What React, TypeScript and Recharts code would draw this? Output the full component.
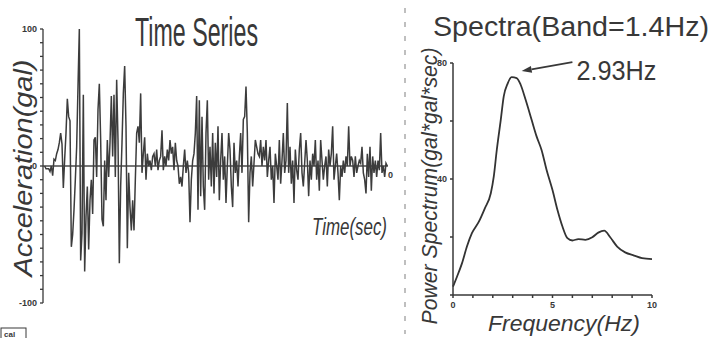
import { Line, LineChart, ReferenceLine, XAxis, YAxis } from "recharts"

// acceleration samples (gal), one every 0.2 s
const accel = [
  0, -2, -2, -2, -4, 0, -7, 5, 4, 9, 12, 17, 24, 16, -16, 5, 24, 49, 36, 33,
  -59, -50, -32, -10, 14, 58, 100, -69, -49, 52, -77, -37, -15, -61, -25, -10, -35, 19, 21, -8,
  41, 60, 19, -39, -44, 4, -25, 19, -8, 17, 51, 7, 52, -8, 63, 19, -71, -15, 17, 53,
  73, 29, -60, -5, -30, -47, -25, -47, -10, 24, 29, 17, 53, -5, 9, 21, -10, 9, 0, 4,
  -3, 7, 9, 0, 12, -3, 4, 7, 26, -3, 7, 0, 12, 4, 19, 9, 14, -3, 17, 4,
  0, -13, -8, -15, 0, 12, -5, 4, -5, -41, -10, 4, 9, 24, 51, -32, 48, -22, 36, -15,
  -32, 24, 48, -10, 14, -15, 24, -20, 17, -8, 29, -25, 4, 24, -10, 7, -27, 0, 24, 12,
  -15, -30, 17, -5, 4, -15, 7, 24, -5, 34, 36, 58, 24, -41, -5, 7, -15, 2, 19, 14,
  9, 7, 19, 0, 14, 4, 19, -8, 4, 14, -10, 0, -27, 9, 0, -10, 19, -13, 4, 24,
  -5, 4, 46, -5, 14, -13, 4, -27, 12, -3, -10, 12, 24, -5, -15, 2, 19, 4, -22, 4,
  -10, 9, 0, 19, -10, 4, -18, 19, 4, -10, 0, 7, -15, 12, 0, 9, 29, -10, 0, 9,
  -5, -25, 0, -8, 4, -5, 7, 0, 29, 0, 7, 4, -8, 7, -5, 0, 4, 2, 14, -5,
  -10, -20, 9, -8, 14, -18, 7, -5, 4, -8, 4, -3, 24, -5, 0, -8, 2, 0,
]
const timeStep = 0.2

const accelTicks = [-100, -90, -80, -70, -60, -50, -40, -30, -20, -10, 0, 10, 20, 30, 40, 50, 60, 70, 80, 90, 100]
const accelLabels = [-100, 0, 100]

// power spectrum
const freq = [0, 0.2, 0.45, 0.7, 0.95, 1.3, 1.6, 1.9, 2.05, 2.2, 2.4, 2.55, 2.75, 2.95, 3.2, 3.4, 3.65, 3.95, 4.2, 4.45, 4.7, 5.0, 5.25, 5.5, 5.75, 6.0, 6.3, 6.65, 7.0, 7.3, 7.6, 7.9, 8.25, 8.65, 9.1, 9.5, 10]
const power = [2.9, 6.3, 10.9, 16.7, 21.3, 25.3, 29.9, 35.1, 40.9, 50, 60.4, 68.5, 73, 75.1, 74.8, 72.5, 67.3, 60.4, 54.7, 50, 43.2, 36.2, 29.3, 23.6, 19.6, 18.8, 19.3, 19, 19.9, 21.5, 22.2, 19.9, 16.7, 14.7, 13.6, 12.7, 12.4]

const powerTicks = [0, 20, 40, 60, 80]
const powerLabels = [40, 80]
const freqTicks = [0, 1, 2, 3, 4, 5, 6, 7, 8, 9, 10]
const freqLabels = [0, 5, 10]
const peakLabel = "2.93Hz"

const seriesData = accel.map((a, i) => ({ t: i * timeStep, a }))
const spectrumData = freq.map((f, i) => ({ f, p: power[i] }))

const ink = "#383838"
const font = "'Liberation Sans', Arial, sans-serif"

const LeftTick = (props: any) => {
  const { x, y, payload } = props
  if (!accelLabels.includes(payload.value)) return <g />
  return (
    <text x={x - 1} y={y + 3} textAnchor="end" fontSize={9} fontWeight="bold" fill={ink} fontFamily={font}>
      {payload.value}
    </text>
  )
}

const PowerTick = (props: any) => {
  const { x, y, payload } = props
  if (!powerLabels.includes(payload.value)) return <g />
  return (
    <text x={x - 1} y={y + 3} textAnchor="end" fontSize={9} fontWeight="bold" fill={ink} fontFamily={font}>
      {payload.value}
    </text>
  )
}

const FreqTick = (props: any) => {
  const { x, y, payload } = props
  if (!freqLabels.includes(payload.value)) return <g />
  return (
    <text x={x} y={y + 8} textAnchor="middle" fontSize={9} fontWeight="bold" fill={ink} fontFamily={font}>
      {payload.value}
    </text>
  )
}

// arrow pointing at the spectral peak, with its label at the tail
const PeakArrow = (props: any) => {
  const { x1, y1, x2, y2 } = props
  const dx = x2 - x1
  const dy = y2 - y1
  const len = Math.sqrt(dx * dx + dy * dy) || 1
  const ux = dx / len
  const uy = dy / len
  const bx = x2 - ux * 10
  const by = y2 - uy * 10
  const head = `${x2},${y2} ${bx - uy * 3.5},${by + ux * 3.5} ${bx + uy * 3.5},${by - ux * 3.5}`
  return (
    <g>
      <line x1={x1} y1={y1} x2={bx} y2={by} stroke={ink} strokeWidth={1.6} />
      <polygon points={head} fill={ink} />
      <text x={x1 + 4} y={y1 + 18} fontSize={28} fill={ink} fontFamily={font} textLength={80} lengthAdjust="spacingAndGlyphs">
        {peakLabel}
      </text>
    </g>
  )
}

export default function App() {
  return (
    <div style={{ position: "absolute", left: 0, top: 0, width: 716, height: 338, background: "#fff", overflow: "hidden" }}>
      <div style={{ position: "absolute", left: 0, top: 0 }}>
        <LineChart width={400} height={338} data={seriesData} margin={{ top: 29, right: 12, bottom: 35, left: 0 }}>
          <XAxis dataKey="t" type="number" domain={[-0.25, 51.5]} allowDataOverflow hide />
          <YAxis
            width={43}
            type="number"
            domain={[-100, 100]}
            ticks={accelTicks}
            interval={0}
            tick={LeftTick}
            tickSize={3}
            stroke={ink}
            strokeWidth={1.3}
          />
          <ReferenceLine y={0} stroke="#4a4a4a" strokeWidth={1.6} />
          <Line dataKey="a" stroke="#3c3c3c" strokeWidth={1.5} dot={false} isAnimationActive={false} />
        </LineChart>
      </div>
      <div style={{ position: "absolute", left: 400, top: 0 }}>
        <LineChart width={316} height={338} data={spectrumData} margin={{ top: 63, right: 64, bottom: 0, left: 0 }}>
          <XAxis
            dataKey="f"
            type="number"
            domain={[0, 10]}
            ticks={freqTicks}
            interval={0}
            height={43}
            tick={FreqTick}
            tickSize={3}
            stroke={ink}
            strokeWidth={1.5}
          />
          <YAxis
            width={53}
            type="number"
            domain={[0, 80]}
            ticks={powerTicks}
            interval={0}
            tick={PowerTick}
            tickSize={3}
            stroke={ink}
            strokeWidth={1.5}
          />
          <Line type="monotone" dataKey="p" stroke="#333" strokeWidth={1.8} dot={false} isAnimationActive={false} />
          <ReferenceLine
            segment={[{ x: 6.0, y: 80.3 }, { x: 3.45, y: 77.2 }]}
            ifOverflow="visible"
            shape={PeakArrow}
          />
        </LineChart>
      </div>
      <svg width={716} height={338} style={{ position: "absolute", left: 0, top: 0, pointerEvents: "none" }}>
        <line x1={405} y1={8} x2={405} y2={334} stroke="#aaa" strokeWidth={1.5} strokeDasharray="5 9" />
        <text x={135} y={46} fontSize={41} fill={ink} fontFamily={font} textLength={123} lengthAdjust="spacingAndGlyphs">
          Time Series
        </text>
        <text x={433} y={36} fontSize={28} fill={ink} fontFamily={font} textLength={276} lengthAdjust="spacingAndGlyphs">
          Spectra(Band=1.4Hz)
        </text>
        <text
          x={32}
          y={168}
          fontSize={25}
          fontStyle="italic"
          fill={ink}
          fontFamily={font}
          textAnchor="middle"
          textLength={217}
          lengthAdjust="spacingAndGlyphs"
          transform="rotate(-90 32 168)"
        >
          Acceleration(gal)
        </text>
        <text x={312} y={235} fontSize={23} fontStyle="italic" fill={ink} fontFamily={font} textLength={75} lengthAdjust="spacingAndGlyphs">
          Time(sec)
        </text>
        <text x={388} y={178} fontSize={9} fontWeight="bold" fill={ink} fontFamily={font}>
          0
        </text>
        <text
          x={437}
          y={186}
          fontSize={22}
          fontStyle="italic"
          fill={ink}
          fontFamily={font}
          textAnchor="middle"
          textLength={277}
          lengthAdjust="spacingAndGlyphs"
          transform="rotate(-90 437 186)"
        >
          Power Spectrum(gal*gal*sec)
        </text>
        <text x={488} y={331} fontSize={22} fontStyle="italic" fill={ink} fontFamily={font} textLength={152} lengthAdjust="spacingAndGlyphs">
          Frequency(Hz)
        </text>
        <rect x={1} y={328} width={25} height={12} fill="none" stroke={ink} strokeWidth={1} />
        <text x={4} y={337} fontSize={8} fontWeight="bold" fill={ink} fontFamily={font}>
          cal
        </text>
      </svg>
    </div>
  )
}
